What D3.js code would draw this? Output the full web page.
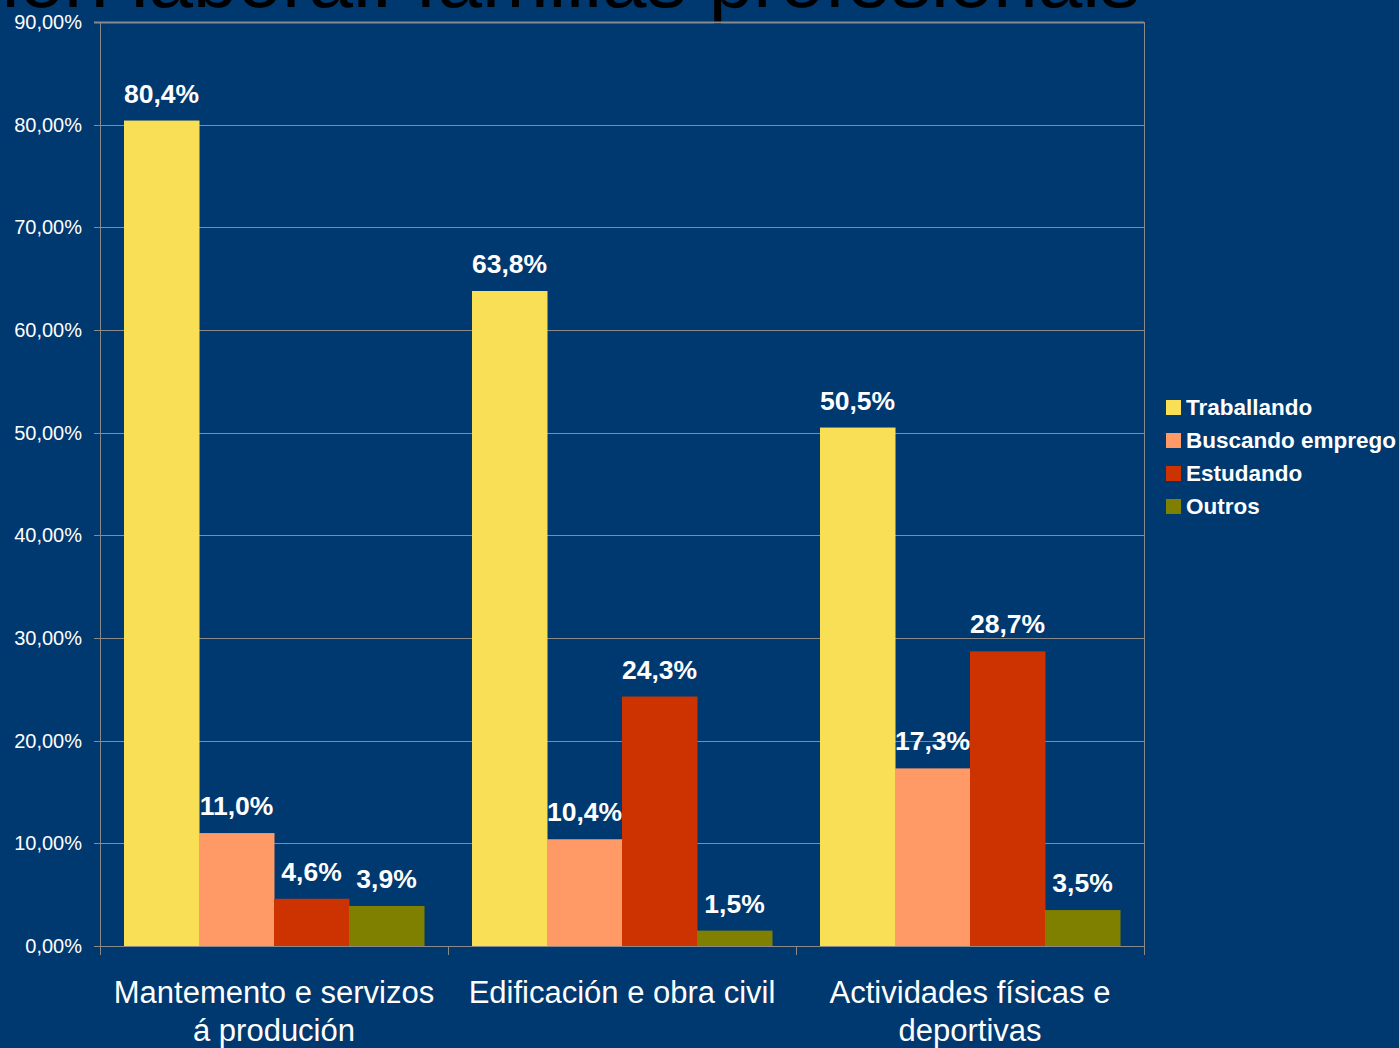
<!DOCTYPE html>
<html>
<head>
<meta charset="utf-8">
<script src="https://cdn.jsdelivr.net/npm/d3@7"></script>
<style>
  html, body { margin: 0; padding: 0; background: #003870; overflow: hidden; }
  svg { display: block; }
</style>
</head>
<body>
<svg id="chart" width="1399" height="1048"></svg>
<script>
// data
const categories = [
    ['Mantemento e servizos', 'á produción'],
    ['Edificación e obra civil'],
    ['Actividades físicas e', 'deportivas']
];
const seriesNames = ['Traballando', 'Buscando emprego', 'Estudando', 'Outros'];
const traballando = [80.4, 63.8, 50.5];
const buscando = [11.0, 10.4, 17.3];
const estudando = [4.6, 24.3, 28.7];
const outros = [3.9, 1.5, 3.5];
const yTicks = [0, 10, 20, 30, 40, 50, 60, 70, 80, 90];
const colors = ['#f9df56', '#ff9966', '#cc3300', '#808000'];

const series = [traballando, buscando, estudando, outros];

const svg = document.getElementById('chart');
const root = d3.select(svg);

const plotLeft = 100, plotRight = 1144, plotTop = 22, plotBottom = 946;
const font = 'Liberation Sans, Arial, sans-serif';

const x = d3.scaleBand().domain(d3.range(categories.length)).range([plotLeft, plotRight]);
const y = d3.scaleLinear().domain([0, 90]).range([plotBottom, plotTop]);
const inner = x.bandwidth() - 2 * 24;
const xs = d3.scaleBand().domain(d3.range(series.length)).range([24, 24 + inner]);

// title, cut off at the top of the slide
root.append('text')
    .attr('x', 1140)
    .attr('y', 7)
    .attr('text-anchor', 'end')
    .attr('font-family', font)
    .attr('font-size', 80)
    .attr('fill', '#000')
    .text('Situación laboral: familias profesionais');

// grid
const grid = root.append('g');
grid.selectAll('line')
    .data(yTicks)
    .join('line')
    .attr('x1', plotLeft - 6)
    .attr('x2', plotRight)
    .attr('y1', d => Math.round(y(d)) + 0.5)
    .attr('y2', d => Math.round(y(d)) + 0.5)
    .attr('stroke', '#8a8a8a')
    .attr('stroke-width', d => d === 90 ? 2 : 1);

grid.append('line')
    .attr('x1', plotRight + 0.5).attr('x2', plotRight + 0.5)
    .attr('y1', plotTop).attr('y2', plotBottom)
    .attr('stroke', '#8a8a8a');

// y axis
const yAxis = d3.axisLeft(y)
    .tickValues(yTicks)
    .tickSize(0)
    .tickPadding(18)
    .tickFormat(d => d.toFixed(2).replace('.', ',') + '%');
root.append('g')
    .attr('transform', `translate(${plotLeft},0)`)
    .call(yAxis)
    .call(g => g.select('.domain').attr('stroke', '#8a8a8a').attr('d', `M0.5,${plotTop}V${plotBottom}`))
    .call(g => g.selectAll('text')
        .attr('fill', '#fff')
        .attr('font-family', font)
        .attr('font-size', 20));

// x axis ticks
root.append('g')
    .selectAll('line')
    .data(d3.range(categories.length + 1))
    .join('line')
    .attr('x1', i => (i < categories.length ? x(i) : plotRight) + 0.5)
    .attr('x2', i => (i < categories.length ? x(i) : plotRight) + 0.5)
    .attr('y1', plotBottom)
    .attr('y2', plotBottom + 9)
    .attr('stroke', '#8a8a8a');

// bars
const groups = root.append('g')
    .selectAll('g')
    .data(categories)
    .join('g')
    .attr('transform', (d, i) => `translate(${x(i)},0)`);

series.forEach((vals, s) => {
    groups.append('rect')
        .attr('x', (d, i) => xs(s))
        .attr('width', xs.bandwidth() + 0.5)
        .attr('y', (d, i) => y(vals[i]))
        .attr('height', (d, i) => plotBottom - y(vals[i]))
        .attr('fill', colors[s]);

    groups.append('text')
        .attr('x', () => xs(s) + xs.bandwidth() / 2)
        .attr('y', (d, i) => y(vals[i]) - 18)
        .attr('text-anchor', 'middle')
        .attr('font-family', font)
        .attr('font-weight', 'bold')
        .attr('font-size', 26.5)
        .attr('fill', '#fff')
        .text((d, i) => vals[i].toFixed(1).replace('.', ',') + '%');
});

// x labels
groups.append('text')
    .attr('x', x.bandwidth() / 2)
    .attr('y', 1003)
    .attr('text-anchor', 'middle')
    .attr('font-family', font)
    .attr('font-size', 31)
    .attr('fill', '#fff')
    .selectAll('tspan')
    .data(d => d)
    .join('tspan')
    .attr('x', x.bandwidth() / 2)
    .attr('dy', (d, i) => i === 0 ? 0 : 38)
    .text(d => d);

// legend
const legend = root.append('g')
    .attr('transform', 'translate(1166,407)');
const items = legend.selectAll('g')
    .data(seriesNames)
    .join('g')
    .attr('transform', (d, i) => `translate(0,${i * 33})`);
items.append('rect')
    .attr('x', 0).attr('y', -7)
    .attr('width', 15).attr('height', 15)
    .attr('fill', (d, i) => colors[i]);
items.append('text')
    .attr('x', 20)
    .attr('y', 8)
    .attr('font-family', font)
    .attr('font-weight', 'bold')
    .attr('font-size', 22.5)
    .attr('fill', '#fff')
    .text(d => d);
</script>
</body>
</html>
